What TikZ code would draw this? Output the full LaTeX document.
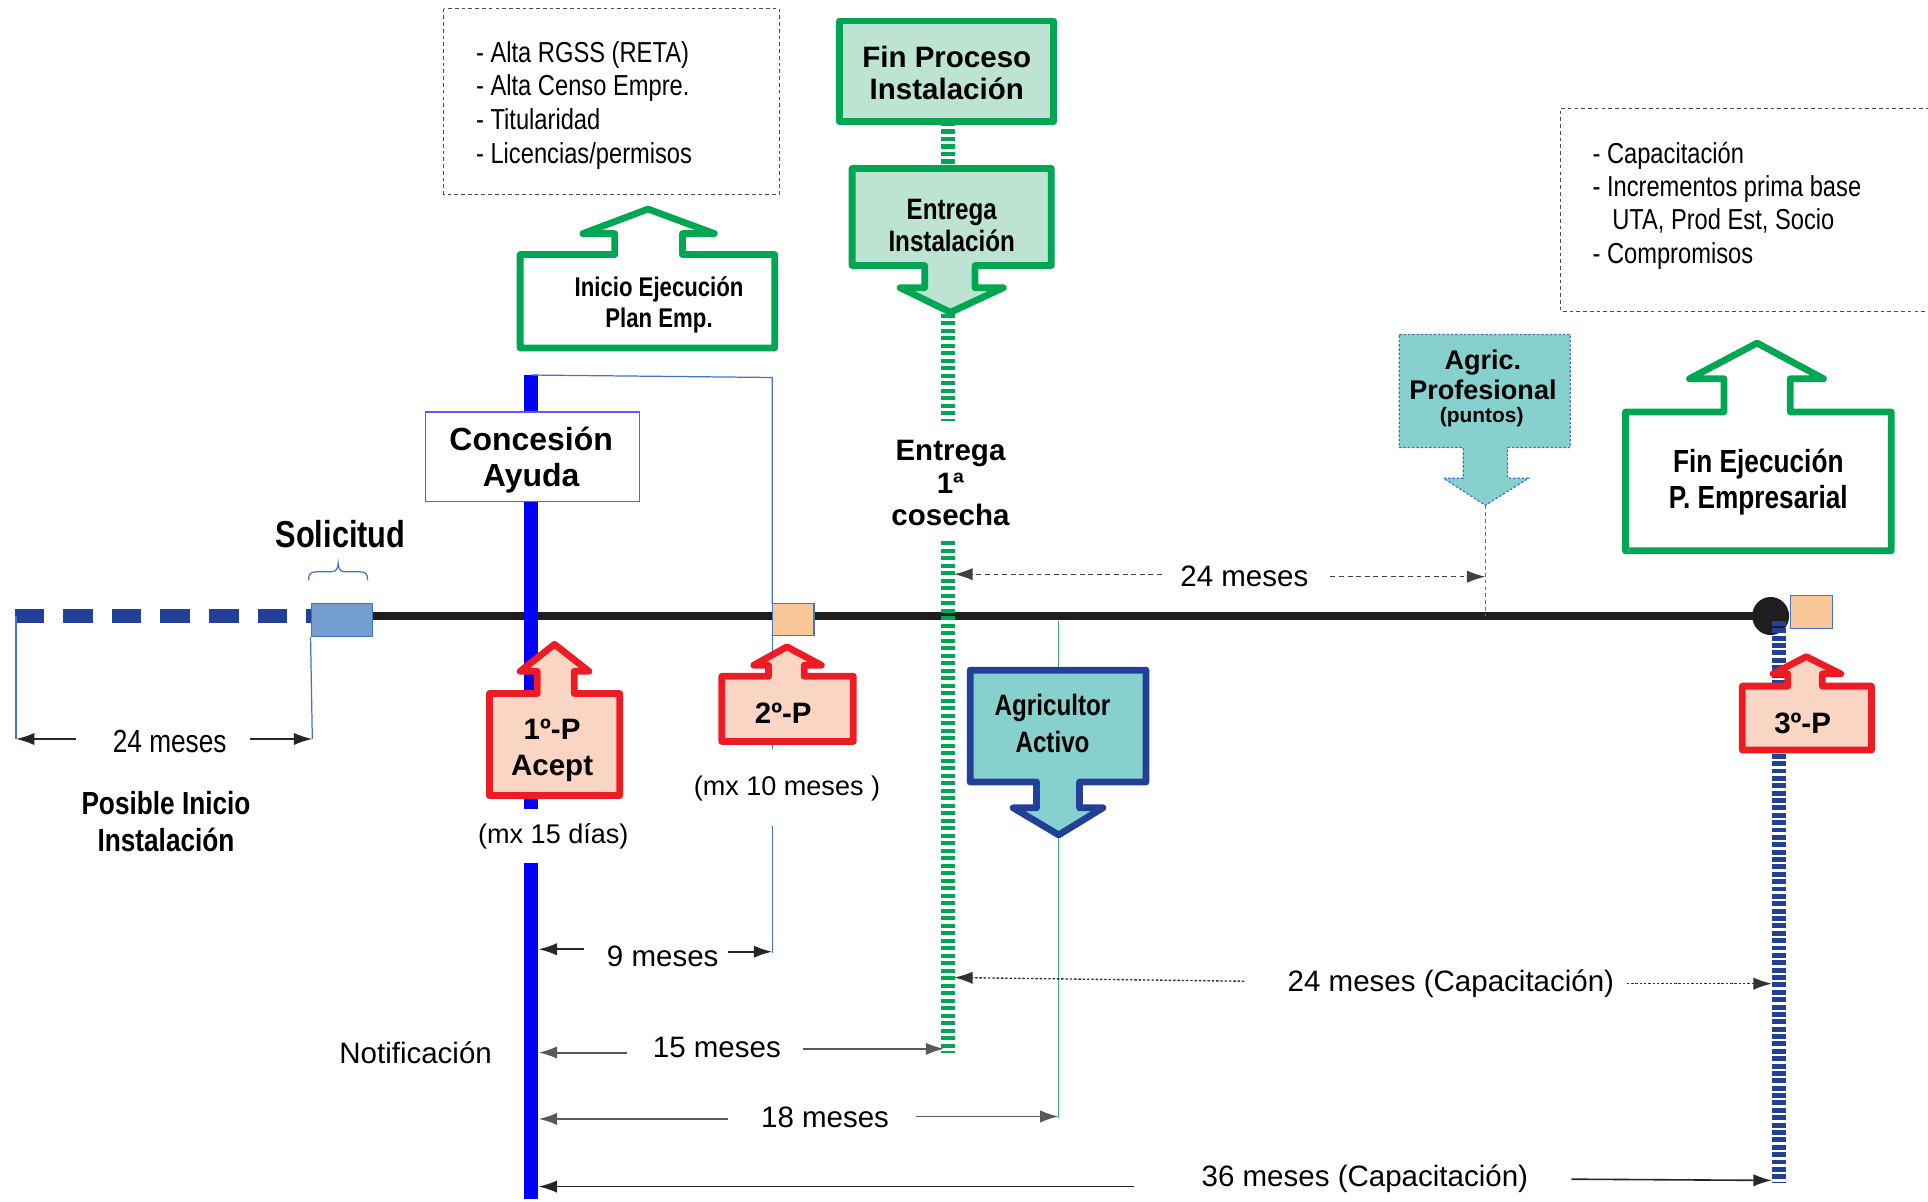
\documentclass[tikz,border=0pt]{standalone}
\usepackage{fontspec}
\setmainfont{Liberation Sans}
\newfontfamily\narrowfont[FakeStretch=0.82]{Liberation Sans}
\usetikzlibrary{arrows.meta,shapes.geometric}
\definecolor{grn}{RGB}{0,166,81}
\definecolor{lgrn}{RGB}{189,228,210}
\definecolor{redc}{RGB}{237,28,36}
\definecolor{peach}{RGB}{251,213,196}
\definecolor{orng}{RGB}{250,200,152}
\definecolor{tealc}{RGB}{134,208,206}
\definecolor{dblue}{RGB}{35,64,153}
\definecolor{sblue}{RGB}{114,159,207}
\definecolor{vblue}{RGB}{90,90,250}
\definecolor{tblue}{RGB}{68,114,196}
\definecolor{lineblk}{RGB}{30,30,30}
\definecolor{agline}{RGB}{60,170,120}
\tikzset{
  lbl/.style={inner sep=0pt, align=center, text=black},
  dimtxt/.style={lbl, font=\fontsize{24}{28}\selectfont},
  dimarr/.style={line width=1.3pt, draw=black!85, -{Latex[length=15pt,width=10pt]}},
  dimgray/.style={line width=1.6pt, draw=black!65, -{Latex[length=15pt,width=10pt]}},
  dimdash/.style={line width=1.1pt, draw=black!75, dash pattern=on 4pt off 3pt, -{Latex[length=15pt,width=10pt]}},
  dimdot/.style={line width=1.1pt, draw=black!80, dash pattern=on 2pt off 1.5pt, -{Latex[length=15pt,width=10pt]}},
  gcall/.style={draw=grn, line width=5.5pt, line join=round},
  rcall/.style={draw=redc, line width=5.5pt, line join=round, fill=peach},
  notebox/.style={draw=black!70, line width=0.9pt, dash pattern=on 3pt off 2.5pt},
  sq/.style={draw=tblue, line width=0.9pt, fill=orng},
  thinblue/.style={draw=tblue, line width=1pt},
}
\begin{document}
\begin{tikzpicture}[x=1pt,y=-1pt]
\useasboundingbox (0,0) rectangle (1568,977);

% ---------- note boxes
\draw[notebox] (361,7) rectangle (634,158);
\draw[notebox] (1575,88) -- (1269,88) -- (1269,253) -- (1575,253);
\begin{scope}[every node/.style={lbl, anchor=base west, font=\narrowfont\fontsize{23.5}{27}\selectfont}]
\node (la1) at (387,51) {- Alta RGSS (RETA)};
\node (la2) at (387,78) {- Alta Censo Empre.};
\node (la3) at (387,105) {- Titularidad};
\node (la4) at (387,133) {- Licencias/permisos};
\node (lb1) at (1295,133) {- Capacitación};
\node (lb2) at (1295,160) {- Incrementos prima base};
\node (lb3) at (1311,187) {UTA, Prod Est, Socio};
\node (lb4) at (1295,214) {- Compromisos};
\end{scope}

% ---------- left dashed line and Solicitud
\draw[dblue, line width=12pt, dash pattern=on 24pt off 15.5pt] (12,501) -- (253,501);
\draw[lineblk, line width=6pt] (300,501) -- (1440,501);
\node[draw=tblue, line width=0.9pt, fill=sblue, minimum width=50pt, minimum height=27pt, inner sep=0pt] (sol) at (278,504) {};
\draw[tblue, line width=1pt] (251,472) .. controls (251,466) and (253,465) .. (258,465) -- (269,465) .. controls (273,465) and (275,463) .. (275,458) .. controls (275,463) and (277,465) .. (281,465) -- (292,465) .. controls (297,465) and (299,466) .. (299,472);
\node[lbl, font=\narrowfont\bfseries\fontsize{30.5}{34}\selectfont] (soltxt) at (277,434) {Solicitud};

% left 24 meses
\coordinate (lz) at (13,501);
\coordinate (lzb) at (13,601);
\coordinate (rzb) at (254,601);
\draw[tblue, line width=1pt] (lz) -- (lzb);
\draw[tblue, line width=1pt] (sol.south west) -- (rzb);
\node[lbl, font=\narrowfont\fontsize{26}{30}\selectfont] (m24l) at (138,603) {24 meses};
\coordinate (m24la) at (62,601);
\coordinate (m24lb) at (203,601);
\draw[dimarr] (m24la) -- (lzb);
\draw[dimarr] (m24lb) -- (rzb);
\node[lbl, font=\narrowfont\bfseries\fontsize{26}{30}\selectfont] (posible) at (135,668) {Posible Inicio\\Instalación};

% ---------- blue vertical (Concesion)
\coordinate (bt) at (432,305);
\draw[blue, line width=11pt] (bt) -- (432,658);
\draw[blue, line width=11pt] (432,702) -- (432,975);
\coordinate (tr) at (628,307);
\draw[thinblue] (bt) -- (tr) -- (628,491);
\draw[thinblue] (628,517) -- (628,609);
\draw[thinblue] (628,672) -- (628,775);
\node[draw=vblue, line width=1.2pt, fill=white, minimum width=174pt, minimum height=73pt, inner sep=0pt] (conbox) at (433,371.5) {};
\node[lbl, font=\bfseries\fontsize{26}{29}\selectfont] (con) at (432,374) {Concesión\\Ayuda};

% ---------- green stripes
\draw[grn, line width=12pt, dash pattern=on 3.5pt off 2.6pt] (771,99) -- (771,137);
\draw[grn, line width=12pt, dash pattern=on 3.5pt off 2.6pt] (771,255) -- (771,342);
\draw[grn, line width=12pt, dash pattern=on 3.5pt off 2.6pt] (771,440) -- (771,856);

% ---------- right end
\node[ellipse, fill=lineblk, minimum width=30pt, minimum height=31pt, inner sep=0pt] (endc) at (1440,501) {};
\draw[dblue, line width=11pt, dash pattern=on 4pt off 2pt] (1447,505) -- (1447,962);
\node[sq, minimum width=34pt, minimum height=27pt, inner sep=0pt] (sq3) at (1473,497.5) {};
\node[sq, minimum width=34pt, minimum height=26pt, inner sep=0pt] (sq2) at (645,504) {};

% agricultor thin line
\coordinate (ag1) at (861,505);
\coordinate (ag2) at (861,545);
\coordinate (ag3) at (861,679);
\coordinate (ag4) at (861,909);
\draw[agline, line width=1pt] (ag1) -- (ag2);
\draw[agline, line width=1pt] (ag3) -- (ag4);
% agric profesional dashed line
\coordinate (ap1) at (1208,411);
\coordinate (ap2) at (1208,501);
\draw[tblue, line width=1pt, dash pattern=on 3pt off 2.5pt] (ap1) -- (ap2);

% ---------- callouts
\draw[gcall, fill=white] (423,283) -- (423,207) -- (500,207) -- (500,190) -- (474,190) -- (527,170) -- (581,190) -- (555,190) -- (555,207) -- (630,207) -- (630,283) -- cycle;
\node[lbl, font=\narrowfont\bfseries\fontsize{22}{25}\selectfont] (inicio) at (536,248) {Inicio Ejecución\\Plan Emp.};

\draw[gcall, fill=lgrn] (683,17) rectangle (857,99);
\node[lbl, font=\bfseries\fontsize{24}{26}\selectfont] (finproc) at (770,59) {Fin Proceso\\Instalación};

\draw[gcall, fill=lgrn] (693,137) -- (855,137) -- (855,216) -- (793,216) -- (793,234) -- (816,234) -- (773,254) -- (732,234) -- (752,234) -- (752,216) -- (693,216) -- cycle;
\node[lbl, font=\narrowfont\bfseries\fontsize{24}{26}\selectfont] (entinst) at (774,183) {Entrega\\Instalación};

\node[lbl, font=\bfseries\fontsize{24}{26.5}\selectfont] (cosecha) at (773,393) {Entrega\\1ª\\cosecha};

\draw[draw=tblue, line width=1pt, dash pattern=on 2pt off 1.5pt, fill=tealc] (1138,272) -- (1277,272) -- (1277,364) -- (1226,364) -- (1226,389) -- (1243,389) -- (1208,411) -- (1174,389) -- (1190,389) -- (1190,364) -- (1138,364) -- cycle;
\node[lbl, font=\bfseries\fontsize{22}{24}\selectfont] (agricp) at (1206,305) {Agric.\\Profesional};
\node[lbl, font=\bfseries\fontsize{17}{20}\selectfont] (puntos) at (1205,339) {(puntos)};

\draw[gcall, fill=white] (1322,448) -- (1322,335) -- (1402,335) -- (1402,308) -- (1374,308) -- (1429,279) -- (1483,308) -- (1456,308) -- (1456,335) -- (1538,335) -- (1538,448) -- cycle;
\node[lbl, font=\narrowfont\bfseries\fontsize{26}{29.5}\selectfont] (finej) at (1430,392) {Fin Ejecución\\P. Empresarial};

\draw[rcall] (398,647) -- (398,564) -- (437,564) -- (437,546) -- (423,546) -- (451,524) -- (479,546) -- (467,546) -- (467,564) -- (504,564) -- (504,647) -- cycle;
\node[lbl, font=\bfseries\fontsize{24}{29}\selectfont] (p1) at (449,610) {1º-P\\Acept};

\draw[rcall] (587,603) -- (587,550) -- (625,550) -- (625,541) -- (613,541) -- (640,526) -- (668,541) -- (654,541) -- (654,550) -- (694,550) -- (694,603) -- cycle;
\node[lbl, font=\bfseries\fontsize{24}{28}\selectfont] (p2) at (637,580) {2º-P};

\draw[rcall] (1417,610) -- (1417,558) -- (1454,558) -- (1454,548) -- (1442,548) -- (1469,534) -- (1497,548) -- (1482,548) -- (1482,558) -- (1522,558) -- (1522,610) -- cycle;
\node[lbl, font=\bfseries\fontsize{24}{28}\selectfont] (p3) at (1466,588) {3º-P};

\draw[draw=dblue, line width=5.5pt, line join=round, fill=tealc] (789,545) -- (932,545) -- (932,636) -- (878,636) -- (878,657) -- (897,657) -- (861,679) -- (824,657) -- (843,657) -- (843,636) -- (789,636) -- cycle;
\node[lbl, font=\narrowfont\bfseries\fontsize{24}{30}\selectfont] (activo) at (856,588) {Agricultor\\Activo};

% ---------- small labels
\node[dimtxt, font=\fontsize{22}{26}\selectfont] (mx15) at (450,680) {(mx 15 días)};
\node[dimtxt, font=\fontsize{22}{26}\selectfont] (mx10) at (640,641) {(mx 10 meses )};
\node[dimtxt] (notif) at (338,856) {Notificación};

% ---------- dimension arrows
\node[dimtxt] (m24t) at (1012,469) {24 meses};
\coordinate (a24s) at (945,467); \coordinate (a24e) at (776,467);
\coordinate (b24s) at (1082,469); \coordinate (b24e) at (1208,469);
\draw[dimdash] (a24s) -- (a24e);
\draw[dimdash] (b24s) -- (b24e);

\node[dimtxt] (m9) at (539,778) {9 meses};
\coordinate (a9s) at (475,772); \coordinate (a9e) at (438,772);
\coordinate (b9s) at (592,774); \coordinate (b9e) at (628,774);
\draw[dimarr] (a9s) -- (a9e);
\draw[dimarr] (b9s) -- (b9e);

\node[dimtxt] (m24c) at (1180,800) {24 meses (Capacitación)};
\coordinate (a24cs) at (1012,798); \coordinate (a24ce) at (776,795);
\coordinate (b24cs) at (1323,800); \coordinate (b24ce) at (1441,800);
\draw[dimdot] (a24cs) -- (a24ce);
\draw[dimdot] (b24cs) -- (b24ce);

\node[dimtxt] (m15) at (583,852) {15 meses};
\coordinate (a15s) at (510,856); \coordinate (a15e) at (438,856);
\coordinate (b15s) at (653,853); \coordinate (b15e) at (768,853);
\draw[dimgray] (a15s) -- (a15e);
\draw[dimgray] (b15s) -- (b15e);

\node[dimtxt] (m18) at (671,909) {18 meses};
\coordinate (a18s) at (592,910); \coordinate (a18e) at (438,910);
\coordinate (b18s) at (745,908); \coordinate (b18e) at (861,908);
\draw[dimgray] (a18s) -- (a18e);
\draw[dimgray] (b18s) -- (b18e);

\node[dimtxt] (m36) at (1110,959) {36 meses (Capacitación)};
\coordinate (a36s) at (922,965); \coordinate (a36e) at (438,965);
\coordinate (b36s) at (1278,959); \coordinate (b36e) at (1441,960);
\draw[dimarr] (a36s) -- (a36e);
\draw[dimarr] (b36s) -- (b36e);
\end{tikzpicture}
\end{document}
